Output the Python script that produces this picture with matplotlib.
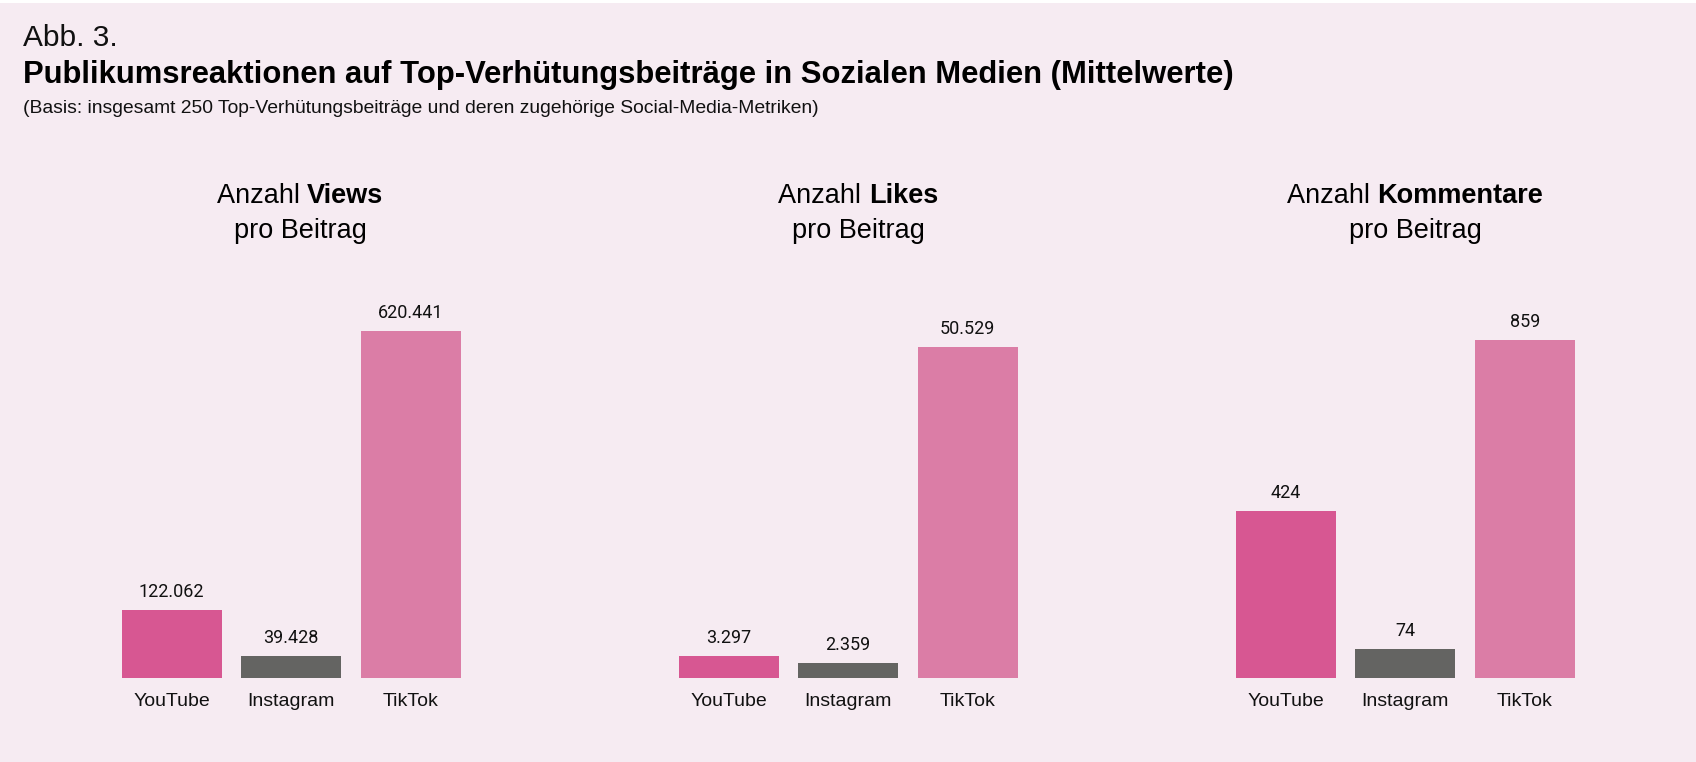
import matplotlib
matplotlib.use("Agg")
import matplotlib.pyplot as plt
from matplotlib.patches import Rectangle

# Daten (Mittelwerte pro Beitrag)
platforms = ["YouTube", "Instagram", "TikTok"]
views = [122062, 39428, 620441]
likes = [3297, 2359, 50529]
comments = [424, 74, 859]
panel_bold = ["Views", "Likes", "Kommentare"]

# Farben
bg_color = "#F6EBF2"
bar_colors = ["#D75792", "#646462", "#DB7DA6"]

W, H = 1696, 762
fig = plt.figure(figsize=(W / 100, H / 100), dpi=100, facecolor=bg_color)
renderer = fig.canvas.get_renderer()

font = "Liberation Sans"


def px_x(x):
    return x / W


def px_y(y):
    return 1 - y / H


def fit_width(t, target):
    """Schriftgröße so anpassen, dass der Text die Zielbreite (Pixel) hat"""
    w = t.get_window_extent(renderer).width
    t.set_fontsize(t.get_fontsize() * target / w)
    return t.get_fontsize()


# weißer Streifen oben
fig.patches.append(Rectangle((0, px_y(3)), 1, 3 / H, transform=fig.transFigure,
                             facecolor="white", edgecolor="none"))

# Kopfzeilen
fig.text(px_x(23), px_y(46), "Abb. 3.", fontsize=21.5, family=font, va="baseline", color="#111111")
t = fig.text(px_x(23), px_y(83), "Publikumsreaktionen auf Top-Verhütungsbeiträge in Sozialen Medien (Mittelwerte)",
             fontsize=19, family=font, weight="bold", va="baseline", color="#000000")
fit_width(t, 1209)
t = fig.text(px_x(23), px_y(113), "(Basis: insgesamt 250 Top-Verhütungsbeiträge und deren zugehörige Social-Media-Metriken)",
             fontsize=13, family=font, va="baseline", color="#111111")
fit_width(t, 794)


def panel_title(cx, bold_word):
    # "Anzahl <fett>" zentriert, zweite Zeile "pro Beitrag"
    t1 = fig.text(0, px_y(203), "Anzahl ", fontsize=19.5, family=font, va="baseline")
    t2 = fig.text(0, px_y(203), bold_word, fontsize=19.5, family=font, weight="bold", va="baseline")
    w1 = t1.get_window_extent(renderer).width
    w2 = t2.get_window_extent(renderer).width
    left = cx - (w1 + w2) / 2
    t1.set_x(px_x(left))
    t2.set_x(px_x(left + w1))
    fig.text(px_x(cx), px_y(238), "pro Beitrag", fontsize=19.5, family=font,
             ha="center", va="baseline")


datasets = [views, likes, comments]
axes_left = [112, 669, 1226]
title_centers = [300, 858, 1415]
top_factor = [378 / 347, 378 / 331, 378 / 338]

for i, data in enumerate(datasets):
    ax = fig.add_axes([px_x(axes_left[i]), px_y(678), 358.5 / W, 378 / H])
    ax.set_facecolor("none")
    x = range(len(platforms))
    bars = ax.bar(x, data, width=0.837, color=bar_colors)
    ax.set_xlim(-0.5, 2.5)
    ax.set_ylim(0, max(data) * top_factor[i])
    ax.axis("off")

    for rect, val, name in zip(bars, data, platforms):
        cx = rect.get_x() + rect.get_width() / 2
        label = f"{val:,}".replace(",", ".")
        ax.annotate(label, (cx, rect.get_height()), xytext=(0, 13 * 0.72), textcoords="offset points",
                    ha="center", va="baseline", fontsize=13, family="Roboto", color="#111111")
        ax.annotate(name, (cx, 0), xytext=(0, -28 * 0.72), textcoords="offset points",
                    ha="center", va="baseline", fontsize=14, family=font, color="#111111")

    panel_title(title_centers[i], panel_bold[i])

fig.savefig("out.png", dpi=100, facecolor=bg_color)
